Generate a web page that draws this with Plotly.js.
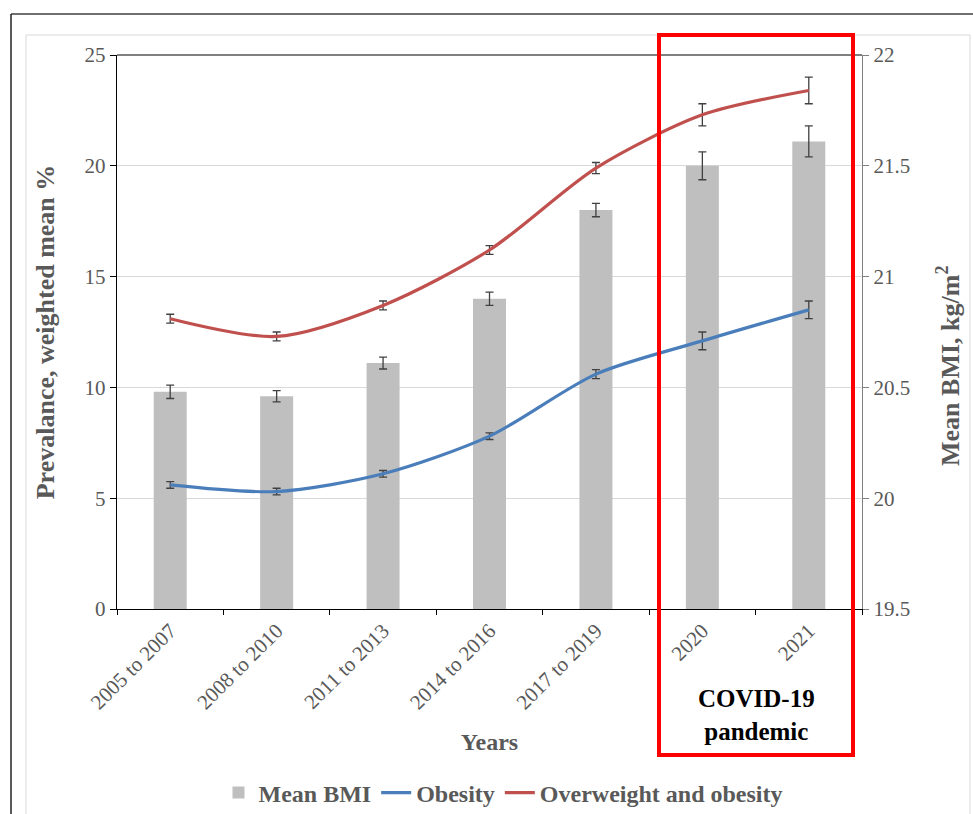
<!DOCTYPE html>
<html>
<head>
<meta charset="utf-8">
<script src="https://cdn.plot.ly/plotly-3.0.1.min.js"></script>
<style>html,body{margin:0;padding:0;background:#fff;}#chart{width:973px;height:814px;}</style>
</head>
<body>
<div id="chart"></div>
<script>
// ---- data ----
const categories = ["2005 to 2007", "2008 to 2010", "2011 to 2013", "2014 to 2016", "2017 to 2019", "2020", "2021"];
const meanBMI = [20.48, 20.46, 20.61, 20.90, 21.30, 21.50, 21.61];
const meanBMIErr = [0.03, 0.025, 0.027, 0.03, 0.03, 0.063, 0.07];
const obesity = [5.6, 5.3, 6.1, 7.8, 10.6, 12.1, 13.5];
const obesityErr = [0.15, 0.15, 0.15, 0.15, 0.2, 0.4, 0.4];
const overweight = [13.1, 12.3, 13.7, 16.2, 19.9, 22.3, 23.4];
const overweightErr = [0.2, 0.2, 0.2, 0.2, 0.25, 0.5, 0.6];
const leftTicks = [0, 5, 10, 15, 20, 25];
const rightTicks = [19.5, 20, 20.5, 21, 21.5, 22];

const FONT = "Liberation Serif, Times New Roman, serif";
const GRAY = "#595959";

const errStyle = (arr) => ({type: "data", array: arr, visible: true, color: "#404040", thickness: 1.3, width: 4});

const traces = [
  {type: "bar", name: "Mean BMI", x: categories, y: meanBMI, yaxis: "y",
   marker: {color: "#bfbfbf"}, width: 0.31, error_y: errStyle(meanBMIErr)},
  {type: "scatter", mode: "lines", name: "Obesity", x: categories, y: obesity, yaxis: "y2",
   line: {color: "#4a7ebb", width: 3.2, shape: "spline", smoothing: 0.8}, error_y: errStyle(obesityErr)},
  {type: "scatter", mode: "lines", name: "Overweight and obesity", x: categories, y: overweight, yaxis: "y2",
   line: {color: "#c0504d", width: 3.2, shape: "spline", smoothing: 0.8}, error_y: errStyle(overweightErr)}
];

// pixel -> paper helpers (plot area 117..862 x 55..609)
const px = (x) => (x - 117) / 745;
const py = (y) => (609 - y) / 554;

const layout = {
  width: 973, height: 814,
  margin: {l: 117, r: 111, t: 55, b: 205},
  paper_bgcolor: "#fff", plot_bgcolor: "#fff",
  font: {family: FONT, color: GRAY, size: 20},
  showlegend: true,
  legend: {orientation: "h", x: px(503), xanchor: "center", yref: "container", y: 1 - 793 / 814, yanchor: "middle",
           font: {family: FONT, size: 24, color: GRAY, weight: "bold"}, traceorder: "normal",
           bgcolor: "rgba(0,0,0,0)"},
  xaxis: {type: "category", automargin: false, showline: true, linecolor: "#000", linewidth: 1.2,
          ticks: "outside", ticklen: 5, tickcolor: "#000", tickson: "boundaries",
          tickangle: -45, tickfont: {family: FONT, size: 21, color: GRAY},
          mirror: false, showgrid: false, zeroline: false,
          title: {text: "Years", font: {family: FONT, size: 24, color: GRAY, weight: "bold"}, standoff: 20}},
  yaxis: {side: "right", automargin: false, range: [19.5, 22], tickvals: rightTicks, ticktext: rightTicks.map(String),
          showline: true, linecolor: "#808080", linewidth: 1.2, ticks: "outside", ticklen: 6, tickcolor: "#808080",
          showgrid: true, gridcolor: "#d9d9d9", gridwidth: 1, zeroline: false,
          tickfont: {family: FONT, size: 21, color: GRAY}},
  yaxis2: {side: "left", overlaying: "y", automargin: false, range: [0, 25], tickvals: leftTicks, ticktext: leftTicks.map(String),
           showline: true, linecolor: "#000", linewidth: 1.2, ticks: "outside", ticklen: 6, tickcolor: "#000",
           showgrid: false, zeroline: false, tickfont: {family: FONT, size: 21, color: GRAY},
           title: {text: "Prevalance, weighted mean %", font: {family: FONT, size: 26, color: GRAY, weight: "bold"}, standoff: 22}},
  shapes: [
    // outer frame
    {type: "line", xref: "paper", yref: "paper", x0: px(11), x1: px(973), y0: py(14), y1: py(14), line: {color: "#404040", width: 1.5}},
    {type: "line", xref: "paper", yref: "paper", x0: px(11), x1: px(11), y0: py(14), y1: py(814), line: {color: "#202020", width: 1.5}},
    // inner chart-area border
    {type: "rect", xref: "paper", yref: "paper", x0: px(26), x1: px(970), y0: py(35), y1: py(830), line: {color: "#d9d9d9", width: 1}},
    // top border of plot
    {type: "line", xref: "paper", yref: "paper", x0: 0, x1: 1, y0: 1, y1: 1, line: {color: "#000", width: 1.2}},
    // COVID-19 box
    {type: "rect", xref: "paper", yref: "paper", x0: px(659), x1: px(853), y0: py(35), y1: py(755), line: {color: "#ff0000", width: 4}, layer: "above"}
  ],
  annotations: [
    // right axis title
    {xref: "paper", yref: "paper", x: px(948), y: py(366), xanchor: "center", yanchor: "middle", textangle: -90,
     text: "Mean BMI, kg/m<sup>2</sup>", showarrow: false,
     font: {family: FONT, size: 26, color: GRAY, weight: "bold"}},
    {xref: "paper", yref: "paper", x: px(756), y: py(715), xanchor: "center", yanchor: "middle",
     text: "COVID-19<br>pandemic", showarrow: false,
     font: {family: FONT, size: 25, color: "#000", weight: "bold"}, align: "center"}
  ]
};

Plotly.newPlot("chart", traces, layout, {displayModeBar: false, staticPlot: true});
</script>
</body>
</html>
